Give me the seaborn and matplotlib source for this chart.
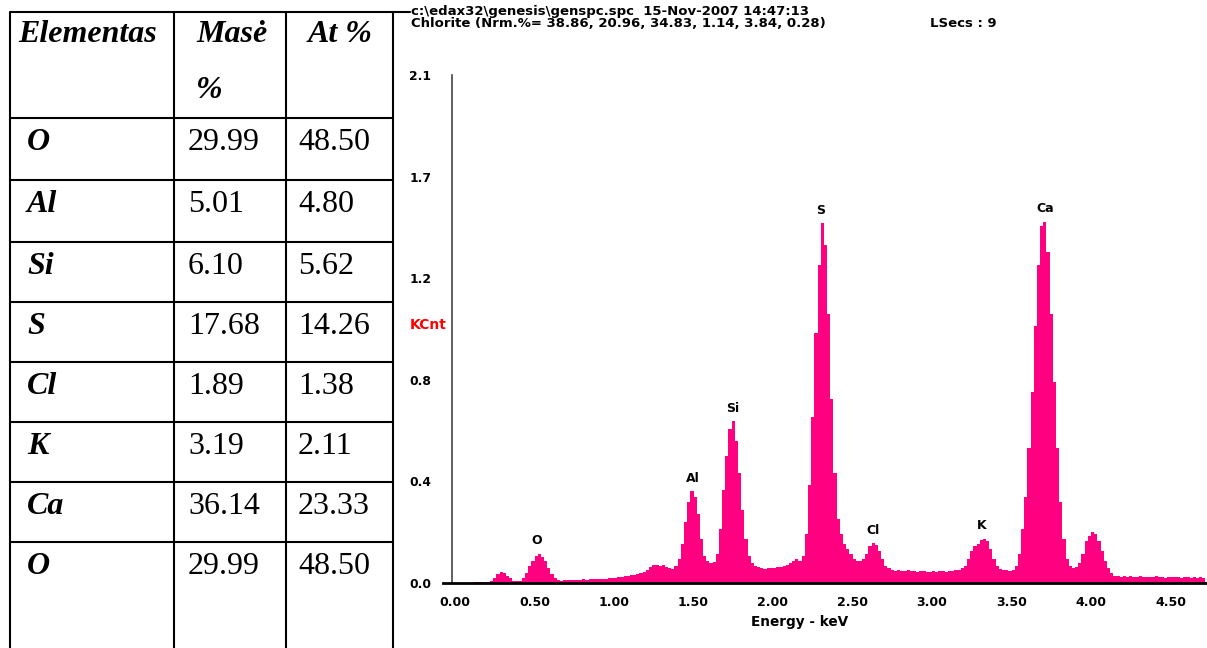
import numpy as np
import pandas as pd
import matplotlib
matplotlib.use("Agg")
import matplotlib.pyplot as plt
import seaborn as sns

# ---------------- data ----------------
table_header_element = "Elementas"
table_header_mass = ["Masė", "%"]
table_header_at = "At %"
elements = ["O", "Al", "Si", "S", "Cl", "K", "Ca", "O"]
mass_pct = ["29.99", "5.01", "6.10", "17.68", "1.89", "3.19", "36.14", "29.99"]
at_pct = ["48.50", "4.80", "5.62", "14.26", "1.38", "2.11", "23.33", "48.50"]

header_line1 = "c:\\edax32\\genesis\\genspc.spc  15-Nov-2007 14:47:13"
header_line2 = "Chlorite (Nrm.%= 38.86, 20.96, 34.83, 1.14, 3.84, 0.28)"
header_lsecs = "LSecs : 9"
x_label = "Energy - keV"
y_label = "KCnt"

channel_start = 0.0
channel_width = 0.02  # keV
counts_kcnt = [
    # 0.00 - 0.10
    0, 0, 0, 0, 0, 0,
    # 0.12 - 0.22
    0.004, 0.006, 0.005, 0.004, 0.006, 0.010,
    # 0.24 - 0.40
    0.020, 0.035, 0.045, 0.040, 0.030, 0.020, 0.010, 0.008, 0.010,
    # 0.42 - 0.64 (O)
    0.020, 0.040, 0.070, 0.090, 0.110, 0.120, 0.105, 0.090, 0.060, 0.035, 0.020, 0.012,
    # 0.66 - 0.98
    0.010, 0.012, 0.011, 0.013, 0.012, 0.014, 0.013, 0.015, 0.014, 0.016, 0.015, 0.017,
    0.016, 0.018, 0.017, 0.019, 0.020,
    # 1.00 - 1.18
    0.022, 0.024, 0.025, 0.028, 0.030, 0.032, 0.034, 0.037, 0.040, 0.045,
    # 1.20 - 1.36
    0.055, 0.065, 0.075, 0.073, 0.070, 0.072, 0.065, 0.060, 0.058,
    # 1.38 - 1.88 (Al, Si)
    0.070, 0.100, 0.160, 0.250, 0.330, 0.375, 0.350, 0.280, 0.180, 0.110, 0.090, 0.080,
    0.085, 0.120, 0.220, 0.380, 0.520, 0.630, 0.660, 0.580, 0.450, 0.300, 0.180, 0.110,
    0.080, 0.070,
    # 1.90 - 2.14
    0.065, 0.060, 0.058, 0.060, 0.062, 0.060, 0.064, 0.066, 0.070, 0.075, 0.080, 0.090, 0.100,
    # 2.16 - 2.42 (S)
    0.090, 0.110, 0.200, 0.400, 0.680, 1.020, 1.300, 1.470, 1.380, 1.100, 0.750, 0.450,
    0.260, 0.200,
    # 2.44 - 2.72 (Cl)
    0.160, 0.140, 0.120, 0.100, 0.090, 0.090, 0.100, 0.120, 0.150, 0.163, 0.155, 0.130,
    0.100, 0.070, 0.060,
    # 2.74 - 3.18
    0.055, 0.050, 0.052, 0.048, 0.050, 0.053, 0.047, 0.050, 0.045, 0.048, 0.050, 0.046,
    0.044, 0.048, 0.045, 0.047, 0.050, 0.046, 0.048, 0.050, 0.052, 0.055, 0.060,
    # 3.20 - 3.50 (K)
    0.070, 0.100, 0.130, 0.150, 0.160, 0.175, 0.180, 0.170, 0.140, 0.100, 0.070, 0.058,
    0.055, 0.052, 0.050, 0.055,
    # 3.52 - 3.90 (Ca Ka)
    0.070, 0.120, 0.220, 0.350, 0.550, 0.780, 1.050, 1.300, 1.460, 1.475, 1.350, 1.100,
    0.820, 0.550, 0.330, 0.180, 0.100, 0.070, 0.060, 0.065,
    # 3.92 - 4.12 (Ca Kb)
    0.080, 0.120, 0.170, 0.190, 0.210, 0.200, 0.170, 0.130, 0.090, 0.060, 0.040,
    # 4.14 - 4.70
    0.030, 0.028, 0.026, 0.027, 0.025, 0.028, 0.026, 0.024, 0.027, 0.025, 0.026, 0.023,
    0.025, 0.027, 0.024, 0.025, 0.022, 0.024, 0.026, 0.023, 0.024, 0.022, 0.025, 0.023,
    0.022, 0.024, 0.021, 0.023, 0.022,
]

peak_names = ["O", "Al", "Si", "S", "Cl", "K", "Ca"]
peak_energy = [0.516, 1.497, 1.748, 2.30, 2.63, 3.31, 3.71]

x_ticks = [0.00, 0.50, 1.00, 1.50, 2.00, 2.50, 3.00, 3.50, 4.00, 4.50]
y_ticks = [0.0, 0.415, 0.83, 1.245, 1.66, 2.075]
y_tick_labels = ["0.0", "0.4", "0.8", "1.2", "1.7", "2.1"]

# ---------------- figure ----------------
sns.set_style("white")
plt.rcParams["font.family"] = ["DejaVu Sans"]
plt.rcParams["text.color"] = "black"
plt.rcParams["xtick.color"] = "black"
plt.rcParams["ytick.color"] = "black"

W, H = 1207, 648
fig = plt.figure(figsize=(W / 100, H / 100), dpi=100)
fig.patch.set_facecolor("white")

# overlay in pixel coordinates for the table and header
bg = fig.add_axes([0, 0, 1, 1])
bg.set_xlim(0, W)
bg.set_ylim(H, 0)
bg.axis("off")

lw_tab = 1.5
col_x = [10, 174, 286, 393]
row_y = [12, 118, 180, 242, 302, 362, 422, 482, 542]
for x in col_x:
    bg.plot([x, x], [row_y[0], H], color="black", lw=lw_tab, solid_capstyle="butt")
bg.plot([col_x[0], 410], [row_y[0], row_y[0]], color="black", lw=lw_tab)
for y in row_y[1:]:
    bg.plot([col_x[0], col_x[-1]], [y, y], color="black", lw=lw_tab)

serif = ["Liberation Serif", "DejaVu Serif"]
fs_tab = 23
tk = dict(family=serif, size=fs_tab, va="center", ha="left", color="black")
bg.text(18, 35, table_header_element, weight="bold", style="italic", **tk)
bg.text(196, 35, table_header_mass[0], weight="bold", style="italic", **tk)
bg.text(196, 90, table_header_mass[1], weight="bold", style="italic", **tk)
bg.text(308, 35, table_header_at, weight="bold", style="italic", **tk)
for i, (el, m, a) in enumerate(zip(elements, mass_pct, at_pct)):
    yc = row_y[i + 1] + 25
    bg.text(27, yc, el, weight="bold", style="italic", **tk)
    bg.text(188, yc, m, **tk)
    bg.text(298, yc, a, **tk)

# spectrum header
bg.text(411, 11.5, header_line1, size=9.5, weight="bold", va="center", ha="left", color="black")
bg.text(411, 23.5, header_line2, size=9.5, weight="bold", va="center", ha="left", color="black")
bg.text(930, 23.5, header_lsecs, size=9.5, weight="bold", va="center", ha="left", color="black")
bg.text(410, 325, y_label, size=10, weight="bold", color="#FF0000", va="center", ha="left")

# spectrum axes
ax_l, ax_r, ax_t, ax_b = 443, 1207, 75, 583
ax = fig.add_axes([ax_l / W, 1 - ax_b / H, (ax_r - ax_l) / W, (ax_b - ax_t) / H])
ax.patch.set_alpha(0)

counts = np.array(counts_kcnt, dtype=float)
centers = channel_start + channel_width * (np.arange(len(counts)) + 0.5)
spec = pd.DataFrame({"energy": centers, "kcnt": counts})
sns.histplot(data=spec, x="energy", weights="kcnt", binwidth=channel_width,
             binrange=(channel_start, channel_start + channel_width * len(counts)),
             element="step", fill=True, color="#FF0080", alpha=1, linewidth=0, ax=ax)

px_per_kev = 159.0
ax.set_xlim(-(455 - ax_l) / px_per_kev, (ax_r - 455) / px_per_kev)
ax.set_ylim(0, 2.075)
ax.set_xlabel("")
ax.set_ylabel("")

for s in ["top", "right"]:
    ax.spines[s].set_visible(False)
ax.spines["left"].set_position(("data", -0.019))
ax.spines["left"].set_color("#444444")
ax.spines["left"].set_linewidth(1.2)
ax.spines["bottom"].set_color("black")
ax.spines["bottom"].set_linewidth(2)

ax.set_xticks(x_ticks)
ax.set_xticklabels([f"{v:.2f}" for v in x_ticks])
ax.set_yticks(y_ticks)
ax.set_yticklabels(y_tick_labels)
ax.tick_params(axis="y", direction="out", length=6.5, width=1.2, color="#333333",
               labelcolor="black", pad=8.5, labelsize=8.8)
ax.tick_params(axis="x", direction="out", length=5, width=1.2, color="black",
               labelcolor="black", pad=4, labelsize=9)
for lab in ax.get_xticklabels() + ax.get_yticklabels():
    lab.set_fontweight("bold")

ax.text((800 - ax_l) / (ax_r - ax_l), -(622 - ax_b) / (ax_b - ax_t), x_label,
        transform=ax.transAxes, ha="center", va="center", size=9.8, weight="bold",
        color="black")

for name, e in zip(peak_names, peak_energy):
    mask = np.abs(centers - e) <= 0.03
    top = counts[mask].max()
    ax.text(e, top + 0.053, name, ha="center", va="center", size=9, weight="bold",
            color="black")

fig.savefig("out.png", dpi=100, facecolor="white")
